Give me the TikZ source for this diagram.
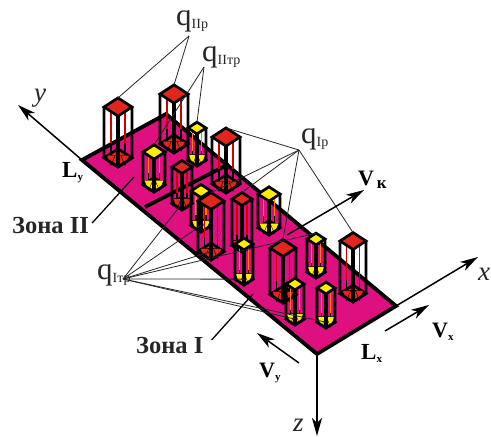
\documentclass[tikz,border=0pt]{standalone}
\usepackage{fontspec}
\setmainfont{Liberation Serif}
\usepackage{tikz}
\usetikzlibrary{arrows.meta,calc}
\definecolor{plate}{RGB}{222,16,128}
\definecolor{redtop}{RGB}{225,38,28}
\definecolor{yellowtop}{RGB}{255,237,0}
\newcommand{\qlab}[1]{q\raisebox{-3pt}{\fontsize{14}{14}\selectfont #1}}
\newcommand{\vlab}[3]{\fontsize{#3}{#3}\selectfont\bfseries #1\raisebox{-3pt}{\fontsize{11}{11}\selectfont #2}}
% name, x, top y, half width, lowest y, top colour, thin line colour
\newcommand{\prism}[7]{
  \pgfmathsetmacro{\hh}{0.65*#4}
  \pgfmathsetmacro{\xl}{#2-#4}
  \pgfmathsetmacro{\xr}{#2+#4}
  \pgfmathsetmacro{\bc}{#5-\hh}
  \pgfmathsetmacro{\xa}{#2-0.5*#4}
  \pgfmathsetmacro{\xb}{#2+0.5*#4}
  \draw[edge, fill=#6] (\xl,\bc) -- (#2,\bc-\hh) -- (\xr,\bc) -- (#2,#5) -- cycle;
  \draw[thinrod, draw=#7] (\xa,#3+0.3*\hh) -- (\xa,\bc-\hh);
  \draw[thinrod, draw=#7] (\xb,#3+0.3*\hh) -- (\xb,\bc-\hh);
  \draw[rodtip, {Triangle[length=11pt,width=9pt,fill=#6,line width=0.4pt]}-] (\xa,\bc+0.9*\hh) -- (\xa,\bc-1.6*\hh);
  \draw[rodtip, {Triangle[length=11pt,width=9pt,fill=#6,line width=0.4pt]}-] (\xb,\bc+0.9*\hh) -- (\xb,\bc-1.6*\hh);
  \draw[edge] (\xl,#3) -- (\xl,\bc) -- (#2,#5) -- (\xr,\bc) -- (\xr,#3);
  \draw[edge, line width=3.2pt] (#2,#3+\hh) -- (#2,#5);
  \draw[edge, fill=#6] (\xl,#3) -- (#2,#3-\hh) -- (\xr,#3) -- (#2,#3+\hh) -- cycle;
  \coordinate (#1) at (#2,#3-\hh);
  \coordinate (#1-b) at (#2,\bc);
}
\begin{document}
\begin{tikzpicture}[
  x=1pt, y=-1pt,
  edge/.style={line width=2.7pt, line join=miter},
  thinrod/.style={line width=1.1pt},
  rodtip/.style={line width=1.3pt, draw=black},
  leader/.style={line width=0.8pt, black!85},
  axis/.style={line width=1.5pt, -{Stealth[length=18pt,width=10pt,inset=5pt]}},
  bold/.style={font=\fontsize{24.5}{24.5}\selectfont\bfseries, inner sep=0pt, text=black!85},
  lab/.style={font=\fontsize{31}{31}\selectfont, inner sep=0pt, text=black!85},
  axlab/.style={font=\fontsize{27}{27}\selectfont\itshape, inner sep=0pt, text=black!85}
]
\useasboundingbox (0,0) rectangle (491,437);

\coordinate (pa) at (82,160);
\coordinate (pb) at (166,114);
\coordinate (pc) at (396,306);
\coordinate (pd) at (317,354);
\coordinate (zl) at (145,207);
\coordinate (zr) at (229,164);
\draw[line width=3.8pt, line join=miter, fill=plate] (pa) -- (pb) -- (pc) -- (pd) -- cycle;
\draw[line width=3.8pt] (zl) -- (zr);

\prism{rtwo}{174}{94}{14}{153}{redtop}{red!80!black}
\prism{yone}{197}{128}{9}{166}{yellowtop}{orange}
\prism{rone}{118}{107}{14}{167}{redtop}{red!80!black}
\prism{ytwo}{154}{152}{11}{192}{yellowtop}{orange}
\prism{rthree}{226}{137}{14}{193}{redtop}{red!80!black}
\prism{rfour}{182}{167}{10}{210}{redtop}{red!80!black}
\prism{ythree}{201}{191}{10}{232}{yellowtop}{orange}
\prism{rsix}{242}{199}{10}{252}{redtop}{red!80!black}
\prism{yfour}{269}{194}{11}{235}{yellowtop}{orange}
\prism{rfive}{211}{201}{13}{260}{redtop}{red!80!black}
\prism{yfive}{244}{244}{9}{285}{yellowtop}{orange}
\prism{yseven}{316}{239}{9}{278}{yellowtop}{orange}
\prism{rseven}{283}{248}{13}{303}{redtop}{red!80!black}
\prism{reight}{353}{241}{13}{302}{redtop}{red!80!black}
\prism{ysix}{295}{284}{9}{325}{yellowtop}{orange}
\prism{yeight}{326}{288}{9}{328}{yellowtop}{orange}

\node[lab, anchor=west] (qiip) at (176,21) {\qlab{IIр}};
\node[lab, anchor=west] (qiitr) at (202,57) {\qlab{IIтр}};
\node[lab, anchor=west] (qip) at (301,139) {\qlab{Iр}};
\node[lab, anchor=west] (qitr) at (97,275) {\qlab{Iтр}};
\node[bold, anchor=west] (zonatwo) at (12,226) {Зона II};
\node[bold, anchor=west] (zonaone) at (136,346) {Зона I};
\node[inner sep=0pt, anchor=base west] (ly) at (62,177) {\vlab{L}{у}{23}};
\node[inner sep=0pt, anchor=base west] (lx) at (361,359) {\vlab{L}{х}{23}};
\node[inner sep=0pt, anchor=base west] (vk) at (358,185) {\vlab{V}{\fontsize{17}{17}\selectfont\,к}{22}};
\node[inner sep=0pt, anchor=base west] (vx) at (432,337) {\vlab{V}{х}{22}};
\node[inner sep=0pt, anchor=base west] (vy) at (259,377) {\vlab{V}{у}{22}};
\node[axlab, anchor=base west] (yname) at (34,101) {y};
\node[axlab, anchor=base west] (xname) at (478,280) {x};
\node[axlab, anchor=base west] (zname) at (293,431) {z};

\coordinate (qiip-o) at (189,36);
\coordinate (qiitr-o) at (204,67);
\coordinate (qip-o) at (299,150);
\coordinate (qitr-o) at (123,279);
\draw[leader] (qiip-o) -- (rone);
\draw[leader] (qiip-o) -- (rtwo);
\draw[leader] (qiitr-o) -- (yone);
\draw[leader] (qiitr-o) -- (ytwo);
\draw[leader] (qip-o) -- (rthree);
\draw[leader] (qip-o) -- (rfive);
\draw[leader] (qip-o) -- (rsix);
\draw[leader] (qip-o) -- (rseven);
\draw[leader] (qip-o) -- (reight);
\draw[leader] (qitr-o) -- (rfour-b);
\draw[leader] (qitr-o) -- (ythree-b);
\draw[leader] (qitr-o) -- (rfive-b);
\draw[leader] (qitr-o) -- (yseven);
\draw[leader] (qitr-o) -- (yfive-b);
\draw[leader] (qitr-o) -- (ysix-b);
\draw[leader] (qitr-o) -- (yeight-b);

\coordinate (ytip) at (18,105);
\coordinate (xtip) at (478,257);
\coordinate (ztip) at (317,436);
\draw[axis] (pa) -- (ytip);
\draw[axis] (pc) -- (xtip);
\draw[axis] (pd) -- (ztip);

\coordinate (vkfrom) at (287,235);
\coordinate (vkto) at (364,190);
\coordinate (vxfrom) at (385,331);
\coordinate (vxto) at (429,305);
\coordinate (vyfrom) at (299,363);
\coordinate (vyto) at (257,333);
\draw[axis] (vkfrom) -- (vkto);
\draw[axis] (vxfrom) -- (vxto);
\draw[axis] (vyfrom) -- (vyto);

\coordinate (ztwoto) at (134,177);
\coordinate (zoneto) at (253,294);
\draw[line width=1.3pt] ($(zonatwo.east)+(3,-3)$) -- (ztwoto);
\draw[line width=1.3pt] ($(zonaone.east)+(8,-6)$) -- (zoneto);
\end{tikzpicture}
\end{document}
